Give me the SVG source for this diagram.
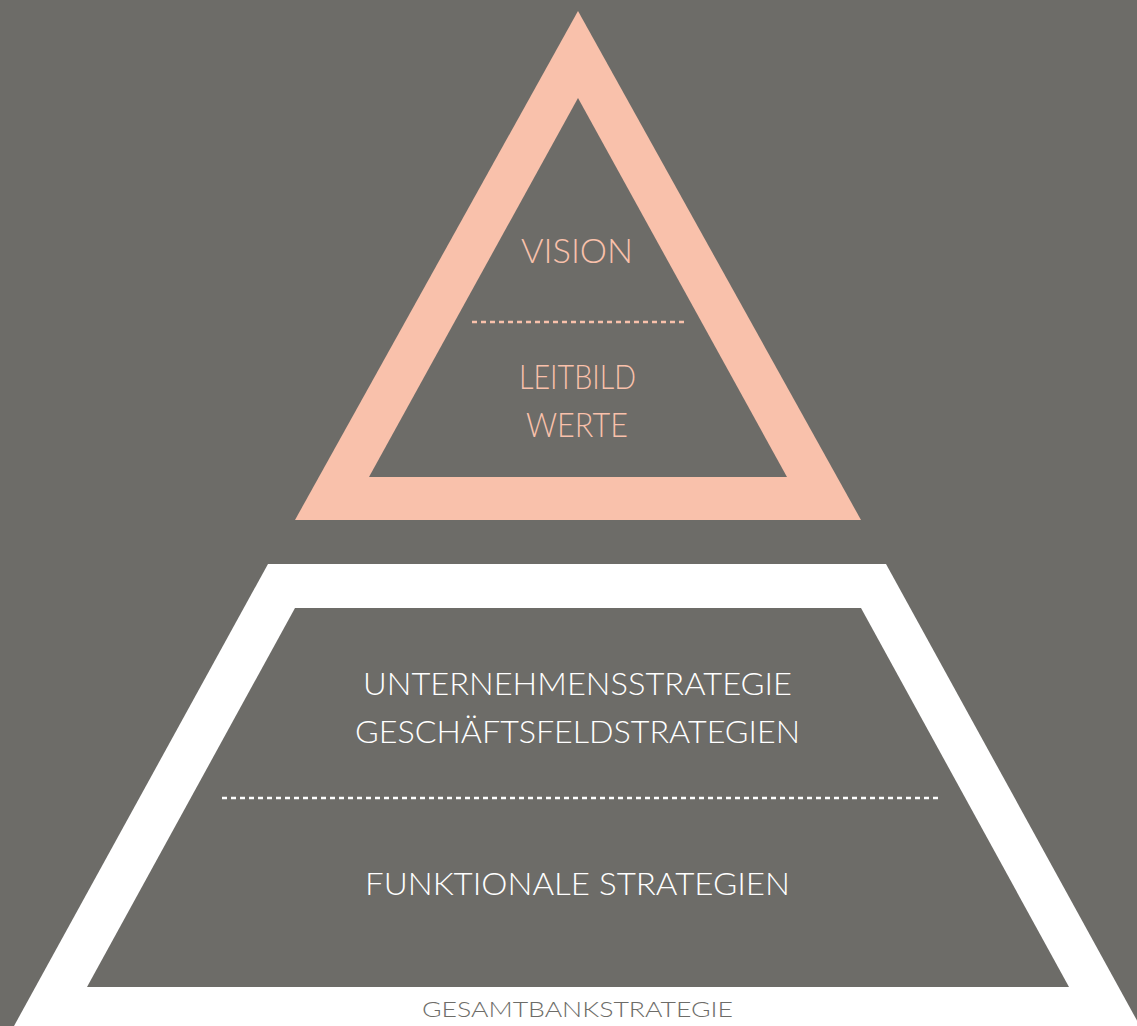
<svg xmlns="http://www.w3.org/2000/svg" width="1137" height="1026" viewBox="0 0 1137 1026">
<style>
.t{font-family:Lato,"Liberation Sans",sans-serif;text-anchor:middle;font-weight:300;}
.pink{fill:#f9c1ab;font-size:33px;}
.white{fill:#ffffff;font-size:31px;}
.gray{fill:#6d6c68;font-size:22px;}
.dash{fill:none;stroke-width:2.5;stroke-dasharray:5 4;}
</style>
<rect width="1137" height="1026" fill="#6d6c68"/>
<g id="top-triangle">
<polygon points="578,11 861,520 295,520" fill="#f9c1ab"/>
<polygon points="578,98 787,477 369,477" fill="#6d6c68"/>
<line class="dash" x1="472" y1="322" x2="684" y2="322" stroke="#f9c1ab"/>
<text class="t pink" x="577" y="263" textLength="112" lengthAdjust="spacingAndGlyphs">VISION</text>
<text class="t pink" x="577.5" y="389" textLength="117" lengthAdjust="spacingAndGlyphs">LEITBILD</text>
<text class="t pink" x="577" y="437" textLength="102" lengthAdjust="spacingAndGlyphs">WERTE</text>
</g>
<g id="bottom-trapezoid">
<polygon points="268,564 886,564 1140,1026 14,1026" fill="#ffffff"/>
<polygon points="295,608 861,608 1069,987 87,987" fill="#6d6c68"/>
<line class="dash" x1="222" y1="798" x2="941" y2="798" stroke="#ffffff"/>
<text class="t white" x="577.5" y="695" textLength="429" lengthAdjust="spacingAndGlyphs">UNTERNEHMENSSTRATEGIE</text>
<text class="t white" x="577.5" y="743" textLength="445" lengthAdjust="spacingAndGlyphs">GESCHÄFTSFELDSTRATEGIEN</text>
<text class="t white" x="577.5" y="895" textLength="425" lengthAdjust="spacingAndGlyphs">FUNKTIONALE STRATEGIEN</text>
<text class="t gray" x="577.5" y="1017" textLength="311" lengthAdjust="spacingAndGlyphs">GESAMTBANKSTRATEGIE</text>
</g>
<g id="connectors"/>
</svg>
